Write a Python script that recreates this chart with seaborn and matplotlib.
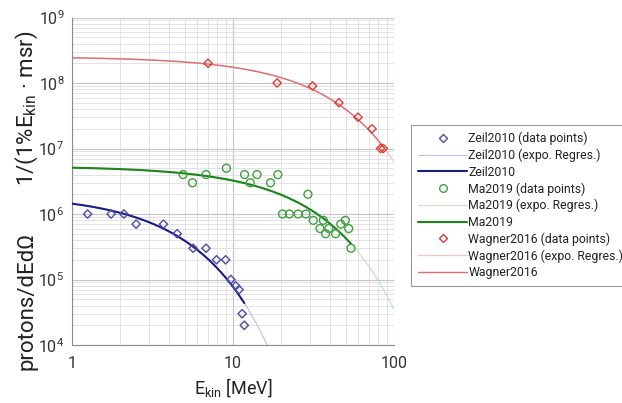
import numpy as np
import pandas as pd
import matplotlib
matplotlib.use("Agg")
import matplotlib.pyplot as plt
import matplotlib.ticker as mticker
from matplotlib.lines import Line2D
import seaborn as sns

# ---------------- data ----------------
zeil_e = [1.25, 1.75, 2.1, 2.5, 3.7, 4.5, 5.65, 6.8, 7.9, 9.0, 9.7, 10.4, 10.9, 11.4, 11.75]
zeil_n = [1e6, 1e6, 1e6, 7e5, 7e5, 5e5, 3e5, 3e5, 2e5, 2e5, 1e5, 8e4, 7e4, 3e4, 2e4]

ma_e = [4.9, 5.6, 6.8, 9.1, 11.8, 12.8, 14.1, 17.1, 19.0, 29.2, 20.3, 22.4, 25.4, 28.4,
        31.5, 36.4, 34.7, 39.4, 37.6, 43.4, 46.7, 49.9, 52.3, 54.1]
ma_n = [4e6, 3e6, 4e6, 5e6, 4e6, 3e6, 4e6, 3e6, 4e6, 2e6, 1e6, 1e6, 1e6, 1e6,
        8e5, 8e5, 6e5, 6e5, 5e5, 5e5, 7e5, 8e5, 6e5, 3e5]

wagner_e = [7.0, 18.8, 31.2, 45.5, 59.8, 73.0, 82.6, 85.8]
wagner_n = [2e8, 1e8, 9e7, 5e7, 3e7, 2e7, 1e7, 1e7]

labels = ["Zeil2010", "Ma2019", "Wagner2016"]
# -----------------------------------------------------------------

sns.set_theme(style="white")
plt.rcParams['font.family'] = ['Roboto', 'DejaVu Sans']
plt.rcParams['mathtext.fontset'] = 'custom'
plt.rcParams['mathtext.rm'] = 'Roboto'
plt.rcParams['mathtext.it'] = 'Roboto:italic'
plt.rcParams['mathtext.bf'] = 'Roboto:bold'

W, H = 622, 403
fig = plt.figure(figsize=(W / 100, H / 100), dpi=100)
ax = fig.add_axes([72 / W, 1 - 345 / H, (394 - 72) / W, (345 - 17.5) / H])

styles = {
    "Zeil2010": dict(mk="D", mcol="#4b4ba3", trend="#c4c4e4", line="#1c1c86", lw=1.5, s=18),
    "Ma2019": dict(mk="o", mcol="#3f9f3f", trend="#c6e3c6", line="#1b841b", lw=1.5, s=32),
    "Wagner2016": dict(mk="D", mcol="#e23a3a", trend="#f5c6c6", line="#de6c6c", lw=1.0, s=18),
}
sets = {"Zeil2010": (zeil_e, zeil_n), "Ma2019": (ma_e, ma_n), "Wagner2016": (wagner_e, wagner_n)}

frames = []
for name in labels:
    e, n = sets[name]
    frames.append(pd.DataFrame({"E": e, "N": n, "set": name}))
df = pd.concat(frames, ignore_index=True)

handles = []
hlabels = []
for name in labels:
    st = styles[name]
    sub = df[df["set"] == name]
    x = sub["E"].to_numpy()
    y = sub["N"].to_numpy()
    # exponential regression  ln N = ln A + b E  (as a spreadsheet trendline)
    b, lnA = np.polyfit(x, np.log(y), 1)
    grid_full = np.geomspace(1, 100, 400)
    grid_data = np.geomspace(1, x.max(), 300)
    tr = pd.DataFrame({"E": grid_full, "N": np.exp(lnA + b * grid_full)})
    th = pd.DataFrame({"E": grid_data, "N": np.exp(lnA + b * grid_data)})
    sns.lineplot(data=tr, x="E", y="N", ax=ax, color=st["trend"], lw=0.9, zorder=2)
    sns.lineplot(data=th, x="E", y="N", ax=ax, color=st["line"], lw=st["lw"], zorder=3)
    sns.scatterplot(data=sub, x="E", y="N", ax=ax, marker=st["mk"], s=st["s"],
                    facecolor="none", edgecolor=st["mcol"], linewidth=1.0, zorder=4)
    handles += [
        Line2D([], [], ls="none", marker=st["mk"], ms=4.2 if st["mk"] == "D" else 5.5,
               mfc="none", mec=st["mcol"], mew=1.0),
        Line2D([], [], color=st["trend"], lw=0.9),
        Line2D([], [], color=st["line"], lw=st["lw"]),
    ]
    hlabels += [f"{name} (data points)", f"{name} (expo. Regres.)", name]

ax.set_xscale("log")
ax.set_yscale("log")
ax.set_xlim(1, 100)
ax.set_ylim(1e4, 1e9)

ax.xaxis.set_major_locator(mticker.LogLocator(base=10, numticks=10))
ax.xaxis.set_minor_locator(mticker.LogLocator(base=10, subs=np.arange(2, 10), numticks=20))
ax.yaxis.set_major_locator(mticker.LogLocator(base=10, numticks=10))
ax.yaxis.set_minor_locator(mticker.LogLocator(base=10, subs=np.arange(2, 10), numticks=20))
ax.xaxis.set_major_formatter(mticker.FuncFormatter(lambda v, p: f"{v:g}"))
ax.xaxis.set_minor_formatter(mticker.NullFormatter())
ax.yaxis.set_minor_formatter(mticker.NullFormatter())

ax.grid(which="major", color="#c4c4c4", lw=0.8)
ax.grid(which="minor", color="#dedede", lw=0.6)
ax.set_axisbelow(True)

for sp in ["top", "right"]:
    ax.spines[sp].set_visible(False)
for sp in ["left", "bottom"]:
    ax.spines[sp].set_color("#8c8c8c")
    ax.spines[sp].set_linewidth(0.8)

ax.tick_params(axis="both", which="major", direction="out", length=4, width=0.8,
               color="#8c8c8c", labelsize=11.5, labelcolor="#333333")
ax.tick_params(axis="x", which="major", pad=4)
ax.tick_params(axis="y", which="major", pad=1.5)
ax.tick_params(which="minor", length=0)

ax.set_xlabel("E$_{\\mathrm{kin}}$ [MeV]", fontsize=13, color="#222222", labelpad=4)
ax.set_ylabel("")
fig.text(27 / W, 1 - 301 / H, "protons/dEdΩ", rotation=90, ha="center", va="center",
         fontsize=16, color="#222222")
fig.text(27 / W, 1 - 108 / H, "1/(1%E$_{\\mathrm{kin}}$ · msr)", rotation=90, ha="center",
         va="center", fontsize=16, color="#222222")

leg = ax.legend(handles, hlabels, loc="upper left", bbox_to_anchor=(411 / W, 1 - 124.7 / H),
                bbox_transform=fig.transFigure, fontsize=8.8, frameon=True, fancybox=False,
                edgecolor="#9a9a9a", framealpha=1, handlelength=4.0, handletextpad=0.1,
                labelspacing=0.28, borderpad=0.6, borderaxespad=0)
leg.get_frame().set_linewidth(0.8)
for t in leg.get_texts():
    t.set_color("#222222")

fig.savefig("out.png", dpi=100)
